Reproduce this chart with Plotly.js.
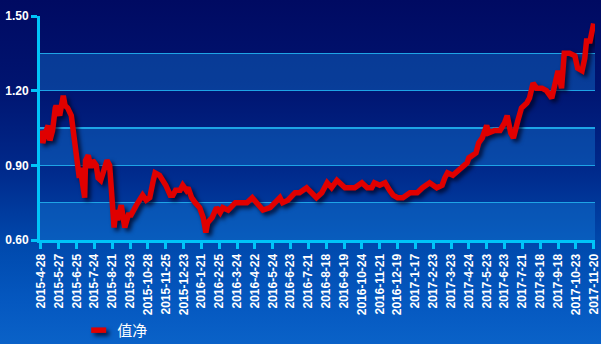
<!DOCTYPE html>
<html>
<head>
<meta charset="utf-8">
<script src="https://cdn.plot.ly/plotly-3.0.1.min.js"></script>
<style>
  html, body { margin: 0; padding: 0; }
  body {
    width: 601px; height: 344px; overflow: hidden;
    background: linear-gradient(to bottom, #000a62 0%, #001470 25%, #002a8c 50%, #004aae 72%, #0558c0 88%, #0a62c8 100%);
  }
  #chart { width: 601px; height: 344px; }
  .scatterlayer .js-line, .legendlines .js-line { filter: drop-shadow(3px 3px 2px rgba(0, 0, 25, 0.75)); }
</style>
</head>
<body>
<div id="chart"></div>
<script>
// trading-day index (from 2015-4-28) and net value
const dayIndex = [0,2,6,8,10,13,16,17,21,25,27,30,34,36,38,40,43,44,46,49,50,53,56,58,62,64,67,72,74,77,78,81,82,84,86,90,92,94,98,101,107,111,114,118,122,126,128,133,137,140,145,148,151,156,159,163,165,169,173,178,182,185,187,192,197,201,204,210,218,223,231,237,242,249,257,262,268,271,277,285,290,298,304,309,315,321,326,332,335,341,346,352,360,366,371,374,380,386,391,395,400,406,414,422,428,436,444,450,453,456,462,468,473,478,480,484,488,491,495,500,502,509,515,520,523,527,530,535,539,545,548,552,556,562,567,573,576,580,584,587,593,599,602,607,610,612,616,618,620];
const netValue = [1.04,0.99,1.04,1.06,1.00,1.04,1.13,1.14,1.10,1.18,1.14,1.13,1.10,1.05,0.98,0.94,0.85,0.89,0.84,0.77,0.92,0.94,0.89,0.92,0.90,0.85,0.84,0.89,0.92,0.90,0.84,0.74,0.65,0.72,0.68,0.74,0.69,0.65,0.70,0.70,0.74,0.77,0.78,0.76,0.77,0.84,0.87,0.86,0.84,0.82,0.78,0.78,0.80,0.80,0.82,0.80,0.81,0.77,0.75,0.73,0.69,0.63,0.67,0.69,0.73,0.71,0.73,0.72,0.75,0.75,0.75,0.77,0.75,0.72,0.73,0.75,0.77,0.75,0.76,0.79,0.79,0.81,0.79,0.77,0.79,0.83,0.81,0.84,0.83,0.81,0.81,0.81,0.83,0.81,0.81,0.83,0.82,0.83,0.80,0.78,0.77,0.77,0.79,0.79,0.81,0.83,0.81,0.82,0.85,0.87,0.86,0.88,0.89,0.91,0.93,0.94,0.95,0.99,1.01,1.06,1.03,1.04,1.04,1.07,1.10,1.03,1.01,1.08,1.13,1.15,1.17,1.23,1.21,1.21,1.20,1.17,1.21,1.28,1.21,1.35,1.35,1.34,1.29,1.28,1.33,1.40,1.40,1.44,1.47];

const tickLabels = ["2015-4-28","2015-5-27","2015-6-25","2015-7-24","2015-8-21","2015-9-23","2015-10-28","2015-11-25","2015-12-23","2016-1-21","2016-2-25","2016-3-24","2016-4-22","2016-5-24","2016-6-23","2016-7-21","2016-8-18","2016-9-19","2016-10-24","2016-11-21","2016-12-19","2017-1-17","2017-2-23","2017-3-23","2017-4-24","2017-5-23","2017-6-23","2017-7-21","2017-8-18","2017-9-18","2017-10-23","2017-11-20"];
const tickStep = 20;
const tickPositions = tickLabels.map((_, i) => i * tickStep);

const seriesName = "值净";
const bandRanges = [[1.20, 1.35], [0.90, 1.05], [0.60, 0.75]];

const axisColor = "#00c4f8";
const gridColor = "#1ea4e6";
const tickFont = { family: "Liberation Sans, Arial, sans-serif", size: 12, color: "#ffffff", weight: "bold" };

const shapes = bandRanges.map(r => ({
  type: "rect", xref: "paper", yref: "y", x0: 0, x1: 1, y0: r[0], y1: r[1],
  fillcolor: "rgba(20,130,220,0.38)", line: { width: 0 }, layer: "below"
}));

const trace = {
  x: dayIndex, y: netValue, type: "scatter", mode: "lines", name: seriesName,
  line: { color: "#e00000", width: 5.5 }
};

const layout = {
  width: 601, height: 344,
  margin: { l: 40, r: 6, t: 16, b: 104, autoexpand: false },
  paper_bgcolor: "rgba(0,0,0,0)", plot_bgcolor: "rgba(0,0,0,0)",
  showlegend: true,
  legend: {
    orientation: "h", x: 0.067, xanchor: "left", y: -0.33, yanchor: "top",
    bgcolor: "rgba(0,0,0,0)",
    font: { family: "Noto Sans CJK SC, sans-serif", size: 15, color: "#ffffff" }
  },
  xaxis: {
    range: [-1.1, 621.5], tickmode: "array", tickvals: tickPositions, ticktext: tickLabels,
    tickangle: -90, tickfont: tickFont, ticks: "outside", ticklen: 6, tickwidth: 3, tickcolor: axisColor,
    showline: true, linecolor: axisColor, linewidth: 3, showgrid: false, zeroline: false, fixedrange: true
  },
  yaxis: {
    range: [0.60, 1.50], tickmode: "linear", tick0: 0.6, dtick: 0.3, tickformat: ".2f",
    tickfont: tickFont, ticks: "outside", ticklen: 6, tickwidth: 3, tickcolor: axisColor,
    showline: true, linecolor: axisColor, linewidth: 3,
    showgrid: true, gridcolor: gridColor, gridwidth: 1.5, zeroline: false,
    minor: { tick0: 0.6, dtick: 0.15, showgrid: true, gridcolor: gridColor, gridwidth: 1.5, ticks: "" },
    fixedrange: true
  },
  shapes: shapes
};

Plotly.newPlot("chart", [trace], layout, { staticPlot: true, displayModeBar: false }).then(() => {
  document.querySelectorAll(".legendlines path").forEach(p => p.setAttribute("d", "M14,0h15"));
});
</script>
</body>
</html>
